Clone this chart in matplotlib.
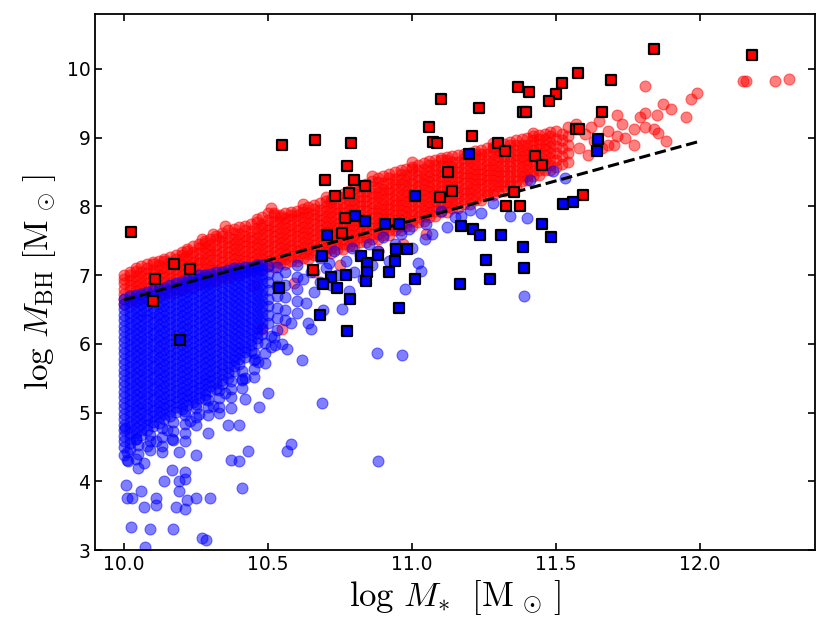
import matplotlib
matplotlib.use("Agg")
import matplotlib.pyplot as plt

plt.rcParams['mathtext.fontset'] = 'cm'

# red galaxies: dense band, written column by column (x, list of y)
red_cols = [
    (10.00, [6.58, 6.65, 6.73, 6.80, 6.88, 6.95, 7.00]),
    (10.02, [6.63, 6.70, 6.78, 6.85, 6.93, 7.00, 7.05]),
    (10.04, [6.62, 6.69, 6.77, 6.84, 6.92, 6.99, 7.06, 7.10]),
    (10.06, [6.67, 6.74, 6.82, 6.89, 6.97, 7.04, 7.13]),
    (10.08, [6.66, 6.73, 6.81, 6.88, 6.96, 7.03, 7.11, 7.16]),
    (10.10, [6.71, 6.78, 6.86, 6.93, 7.01, 7.08, 7.16, 7.19]),
    (10.12, [6.70, 6.77, 6.85, 6.92, 7.00, 7.07, 7.15, 7.21]),
    (10.14, [6.75, 6.82, 6.90, 6.97, 7.05, 7.12, 7.20, 7.24]),
    (10.16, [6.74, 6.81, 6.89, 6.96, 7.04, 7.11, 7.19, 7.27]),
    (10.18, [6.79, 6.86, 6.94, 7.01, 7.09, 7.16, 7.24, 7.30]),
    (10.20, [6.78, 6.85, 6.93, 7.00, 7.08, 7.15, 7.23, 7.30, 7.33]),
    (10.22, [6.83, 6.90, 6.98, 7.05, 7.13, 7.20, 7.28, 7.35, 7.38]),
    (10.24, [6.82, 6.89, 6.97, 7.04, 7.12, 7.19, 7.27, 7.34, 7.42]),
    (10.26, [6.87, 6.94, 7.02, 7.09, 7.17, 7.24, 7.32, 7.39, 7.46]),
    (10.28, [6.87, 6.94, 7.02, 7.09, 7.17, 7.24, 7.32, 7.39, 7.47, 7.50]),
    (10.30, [6.92, 6.99, 7.07, 7.14, 7.22, 7.29, 7.37, 7.44, 7.53]),
    (10.32, [6.92, 6.99, 7.07, 7.14, 7.22, 7.29, 7.37, 7.44, 7.52, 7.57]),
    (10.34, [6.97, 7.04, 7.12, 7.19, 7.27, 7.34, 7.42, 7.49, 7.57, 7.61]),
    (10.36, [6.96, 7.03, 7.11, 7.18, 7.26, 7.33, 7.41, 7.48, 7.56, 7.65]),
    (10.38, [7.01, 7.08, 7.16, 7.23, 7.31, 7.38, 7.46, 7.53, 7.61, 7.67]),
    (10.40, [7.00, 7.07, 7.15, 7.22, 7.30, 7.37, 7.45, 7.52, 7.60, 7.70]),
    (10.42, [7.05, 7.12, 7.20, 7.27, 7.35, 7.42, 7.50, 7.57, 7.65, 7.72]),
    (10.44, [7.04, 7.11, 7.19, 7.26, 7.34, 7.41, 7.49, 7.56, 7.64, 7.74]),
    (10.46, [7.09, 7.16, 7.24, 7.31, 7.39, 7.46, 7.54, 7.61, 7.69, 7.78]),
    (10.48, [7.08, 7.15, 7.23, 7.30, 7.38, 7.45, 7.53, 7.60, 7.68, 7.75, 7.84]),
    (10.50, [7.13, 7.20, 7.28, 7.35, 7.43, 7.50, 7.58, 7.65, 7.73, 7.80, 7.90]),
    (10.52, [7.12, 7.19, 7.27, 7.34, 7.42, 7.49, 7.57, 7.64, 7.72, 7.79, 7.87, 7.90]),
    (10.54, [7.17, 7.24, 7.32, 7.39, 7.47, 7.54, 7.62, 7.69, 7.77, 7.84, 7.88]),
    (10.56, [7.16, 7.23, 7.31, 7.38, 7.46, 7.53, 7.61, 7.68, 7.76, 7.83, 7.90]),
    (10.58, [7.21, 7.28, 7.36, 7.43, 7.51, 7.58, 7.66, 7.73, 7.81, 7.88, 7.92]),
    (10.60, [7.20, 7.27, 7.35, 7.42, 7.50, 7.57, 7.65, 7.72, 7.80, 7.87, 7.94]),
    (10.62, [7.25, 7.32, 7.40, 7.47, 7.55, 7.62, 7.70, 7.77, 7.85, 7.92, 7.96]),
    (10.64, [7.24, 7.31, 7.39, 7.46, 7.54, 7.61, 7.69, 7.76, 7.84, 7.91, 7.99]),
    (10.66, [7.29, 7.36, 7.44, 7.51, 7.59, 7.66, 7.74, 7.81, 7.89, 7.96, 8.02]),
    (10.68, [7.28, 7.35, 7.43, 7.50, 7.58, 7.65, 7.73, 7.80, 7.88, 7.95, 8.05]),
    (10.70, [7.33, 7.40, 7.48, 7.55, 7.63, 7.70, 7.78, 7.85, 7.93, 8.00, 8.08]),
    (10.72, [7.32, 7.39, 7.47, 7.54, 7.62, 7.69, 7.77, 7.84, 7.92, 7.99, 8.07, 8.11]),
    (10.74, [7.38, 7.45, 7.53, 7.60, 7.68, 7.75, 7.83, 7.90, 7.98, 8.05, 8.15]),
    (10.76, [7.38, 7.45, 7.53, 7.60, 7.68, 7.75, 7.83, 7.90, 7.98, 8.05, 8.13, 8.18]),
    (10.78, [7.43, 7.50, 7.58, 7.65, 7.73, 7.80, 7.88, 7.95, 8.03, 8.10, 8.18, 8.22]),
    (10.80, [7.43, 7.50, 7.58, 7.65, 7.73, 7.80, 7.88, 7.95, 8.03, 8.10, 8.18, 8.26]),
    (10.82, [7.48, 7.55, 7.63, 7.70, 7.78, 7.85, 7.93, 8.00, 8.08, 8.15, 8.23, 8.29]),
    (10.84, [7.48, 7.55, 7.63, 7.70, 7.78, 7.85, 7.93, 8.00, 8.08, 8.15, 8.23, 8.33]),
    (10.86, [7.53, 7.60, 7.68, 7.75, 7.83, 7.90, 7.98, 8.05, 8.13, 8.20, 8.28, 8.37]),
    (10.88, [7.53, 7.60, 7.68, 7.75, 7.83, 7.90, 7.98, 8.05, 8.13, 8.20, 8.28, 8.35, 8.41]),
    (10.90, [7.59, 7.66, 7.74, 7.81, 7.89, 7.96, 8.04, 8.11, 8.19, 8.26, 8.34, 8.44]),
    (10.92, [7.59, 7.66, 7.74, 7.81, 7.89, 7.96, 8.04, 8.11, 8.19, 8.26, 8.34, 8.41, 8.47]),
    (10.94, [7.65, 7.72, 7.80, 7.87, 7.95, 8.02, 8.10, 8.17, 8.25, 8.32, 8.40, 8.50]),
    (10.96, [7.65, 7.72, 7.80, 7.87, 7.95, 8.02, 8.10, 8.17, 8.25, 8.32, 8.40, 8.47, 8.53]),
    (10.98, [7.71, 7.78, 7.86, 7.93, 8.01, 8.08, 8.16, 8.23, 8.31, 8.38, 8.46, 8.55]),
    (11.00, [7.72, 7.79, 7.87, 7.94, 8.02, 8.09, 8.17, 8.24, 8.32, 8.39, 8.47, 8.54, 8.58]),
    (11.02, [7.78, 7.85, 7.93, 8.00, 8.08, 8.15, 8.23, 8.30, 8.38, 8.45, 8.53, 8.61]),
    (11.04, [7.79, 7.86, 7.94, 8.01, 8.09, 8.16, 8.24, 8.31, 8.39, 8.46, 8.54, 8.63]),
    (11.06, [7.85, 7.92, 8.00, 8.07, 8.15, 8.22, 8.30, 8.37, 8.45, 8.52, 8.60, 8.66]),
    (11.08, [7.86, 7.93, 8.01, 8.08, 8.16, 8.23, 8.31, 8.38, 8.46, 8.53, 8.61, 8.68]),
    (11.10, [7.92, 7.99, 8.07, 8.14, 8.22, 8.29, 8.37, 8.44, 8.52, 8.59, 8.67, 8.70]),
    (11.12, [7.92, 7.99, 8.07, 8.14, 8.22, 8.29, 8.37, 8.44, 8.52, 8.59, 8.67, 8.72]),
    (11.14, [7.98, 8.05, 8.13, 8.20, 8.28, 8.35, 8.43, 8.50, 8.58, 8.65, 8.74]),
    (11.16, [7.98, 8.05, 8.13, 8.20, 8.28, 8.35, 8.43, 8.50, 8.58, 8.65, 8.75]),
    (11.18, [8.04, 8.11, 8.19, 8.26, 8.34, 8.41, 8.49, 8.56, 8.64, 8.71, 8.77]),
    (11.20, [8.04, 8.11, 8.19, 8.26, 8.34, 8.41, 8.49, 8.56, 8.64, 8.71, 8.78]),
    (11.22, [8.10, 8.17, 8.25, 8.32, 8.40, 8.47, 8.55, 8.62, 8.70, 8.77, 8.80]),
    (11.24, [8.10, 8.17, 8.25, 8.32, 8.40, 8.47, 8.55, 8.62, 8.70, 8.77, 8.82]),
    (11.26, [8.16, 8.23, 8.31, 8.38, 8.46, 8.53, 8.61, 8.68, 8.76, 8.85]),
    (11.28, [8.16, 8.23, 8.31, 8.38, 8.46, 8.53, 8.61, 8.68, 8.76, 8.83, 8.87]),
    (11.30, [8.22, 8.29, 8.37, 8.44, 8.52, 8.59, 8.67, 8.74, 8.82, 8.89]),
    (11.32, [8.22, 8.29, 8.37, 8.44, 8.52, 8.59, 8.67, 8.74, 8.82, 8.91]),
    (11.34, [8.29, 8.36, 8.44, 8.51, 8.59, 8.66, 8.74, 8.81, 8.89, 8.94]),
    (11.36, [8.30, 8.37, 8.45, 8.52, 8.60, 8.67, 8.75, 8.82, 8.90, 8.96]),
    (11.38, [8.37, 8.44, 8.52, 8.59, 8.67, 8.74, 8.82, 8.89, 8.98]),
    (11.40, [8.38, 8.45, 8.53, 8.60, 8.68, 8.75, 8.83, 8.90, 9.00]),
    (11.42, [8.45, 8.52, 8.60, 8.67, 8.75, 8.82, 8.90, 8.97, 9.02]),
    (11.44, [8.46, 8.53, 8.61, 8.68, 8.76, 8.83, 8.91, 8.98, 9.04]),
    (11.46, [8.53, 8.60, 8.68, 8.75, 8.83, 8.90, 8.98, 9.06]),
    (11.48, [8.53, 8.61, 8.70, 8.78, 8.86, 8.94, 9.02, 9.08]),
    (11.50, [8.58, 8.68, 8.78, 8.88, 8.98, 9.10]),
    (11.52, [8.62, 8.74, 8.85, 8.96, 9.06]),
    (11.54, [8.65, 8.78, 8.90, 9.02, 9.15]),
]

# red galaxies: scattered ones around and beyond the band
red_extra = [
    (10.27, 7.52), (10.31, 7.60), (10.35, 7.71), (10.46, 7.81), (10.51, 7.97),
    (10.62, 8.04), (10.70, 8.14), (10.86, 8.45), (11.00, 8.65), (11.28, 8.93),
    (11.42, 9.07), (10.48, 6.22), (10.55, 6.22), (10.59, 6.89), (10.45, 6.85),
    (10.66, 7.05), (10.75, 7.15), (10.88, 7.35), (10.97, 7.45), (11.05, 7.60),
    (11.57, 9.20), (11.58, 8.85), (11.60, 9.05), (11.61, 8.75), (11.62, 9.15),
    (11.63, 8.95), (11.65, 9.25), (11.66, 8.85), (11.68, 9.10), (11.68, 8.90),
    (11.70, 8.90), (11.71, 9.02), (11.71, 9.33), (11.73, 9.20), (11.74, 9.00),
    (11.77, 9.12), (11.77, 8.90), (11.79, 9.30), (11.81, 9.16), (11.81, 9.36),
    (11.81, 9.75), (11.84, 9.12), (11.85, 9.33), (11.855, 9.07), (11.87, 9.49),
    (11.88, 8.95), (11.90, 9.42), (11.95, 9.30), (11.97, 9.56), (11.99, 9.65),
    (12.15, 9.82), (12.16, 9.82), (12.26, 9.82), (12.31, 9.85),
]

# blue galaxies: dense region at low mass, column by column
blue_cols = [
    (10.00, [4.50, 4.59, 4.66, 4.75, 4.82, 4.91, 4.98, 5.07, 5.14, 5.23, 5.30, 5.39, 5.46, 5.55,
             5.62, 5.71, 5.78, 5.87, 5.94, 6.03, 6.10, 6.19, 6.26, 6.35, 6.42, 6.51, 6.58, 6.66]),
    (10.02, [4.56, 4.63, 4.71, 4.79, 4.87, 4.95, 5.03, 5.11, 5.18, 5.27, 5.34, 5.43, 5.50, 5.59,
             5.66, 5.75, 5.82, 5.91, 5.98, 6.07, 6.14, 6.23, 6.30, 6.39, 6.46, 6.55, 6.62, 6.69]),
    (10.04, [4.62, 4.70, 4.78, 4.86, 4.93, 5.02, 5.09, 5.18, 5.25, 5.34, 5.41, 5.50, 5.57, 5.66,
             5.73, 5.82, 5.89, 5.98, 6.05, 6.14, 6.21, 6.30, 6.37, 6.46, 6.53, 6.62, 6.71]),
    (10.06, [4.68, 4.75, 4.83, 4.91, 4.99, 5.06, 5.14, 5.22, 5.30, 5.38, 5.46, 5.54, 5.62, 5.70,
             5.78, 5.86, 5.94, 6.02, 6.10, 6.18, 6.26, 6.34, 6.42, 6.50, 6.58, 6.66, 6.73]),
    (10.08, [4.74, 4.82, 4.90, 4.97, 5.06, 5.13, 5.22, 5.29, 5.38, 5.45, 5.54, 5.61, 5.70, 5.77,
             5.86, 5.93, 6.02, 6.09, 6.18, 6.25, 6.34, 6.41, 6.50, 6.57, 6.66, 6.76]),
    (10.10, [4.80, 4.87, 4.95, 5.02, 5.10, 5.18, 5.26, 5.34, 5.42, 5.50, 5.58, 5.66, 5.74, 5.82,
             5.90, 5.98, 6.06, 6.14, 6.22, 6.30, 6.38, 6.46, 6.54, 6.62, 6.70, 6.78]),
    (10.12, [4.85, 4.93, 5.01, 5.09, 5.16, 5.25, 5.32, 5.41, 5.48, 5.57, 5.64, 5.73, 5.80, 5.89,
             5.96, 6.05, 6.12, 6.21, 6.28, 6.37, 6.44, 6.53, 6.60, 6.69, 6.80]),
    (10.14, [4.91, 4.98, 5.06, 5.13, 5.21, 5.29, 5.37, 5.45, 5.53, 5.61, 5.69, 5.77, 5.85, 5.93,
             6.01, 6.09, 6.17, 6.25, 6.33, 6.41, 6.49, 6.57, 6.65, 6.73, 6.82]),
    (10.16, [4.95, 5.03, 5.11, 5.19, 5.26, 5.35, 5.42, 5.51, 5.58, 5.67, 5.74, 5.83, 5.90, 5.99,
             6.06, 6.15, 6.22, 6.31, 6.38, 6.47, 6.54, 6.63, 6.70, 6.78, 6.85]),
    (10.18, [5.01, 5.08, 5.16, 5.23, 5.31, 5.39, 5.47, 5.55, 5.63, 5.71, 5.79, 5.87, 5.95, 6.03,
             6.11, 6.19, 6.27, 6.35, 6.43, 6.51, 6.59, 6.67, 6.75, 6.82, 6.88]),
    (10.20, [5.05, 5.13, 5.21, 5.29, 5.36, 5.45, 5.52, 5.61, 5.68, 5.77, 5.84, 5.93, 6.00, 6.09,
             6.16, 6.25, 6.32, 6.41, 6.48, 6.57, 6.64, 6.73, 6.80, 6.90]),
    (10.22, [5.11, 5.18, 5.26, 5.33, 5.41, 5.49, 5.57, 5.65, 5.73, 5.81, 5.89, 5.97, 6.05, 6.13,
             6.21, 6.29, 6.37, 6.45, 6.53, 6.61, 6.69, 6.77, 6.85, 6.93]),
    (10.24, [5.15, 5.23, 5.31, 5.39, 5.46, 5.55, 5.62, 5.71, 5.78, 5.87, 5.94, 6.03, 6.10, 6.19,
             6.26, 6.35, 6.42, 6.51, 6.58, 6.67, 6.74, 6.83, 6.90, 6.96]),
    (10.26, [5.21, 5.28, 5.36, 5.43, 5.51, 5.59, 5.67, 5.75, 5.83, 5.91, 5.99, 6.07, 6.15, 6.23,
             6.31, 6.39, 6.47, 6.55, 6.63, 6.71, 6.79, 6.87, 6.94, 7.00]),
    (10.28, [5.25, 5.33, 5.41, 5.49, 5.56, 5.65, 5.72, 5.81, 5.88, 5.97, 6.04, 6.13, 6.20, 6.29,
             6.36, 6.45, 6.52, 6.61, 6.68, 6.77, 6.84, 6.92, 7.00]),
    (10.30, [5.31, 5.38, 5.46, 5.53, 5.61, 5.69, 5.77, 5.85, 5.93, 6.01, 6.09, 6.17, 6.25, 6.33,
             6.41, 6.49, 6.57, 6.65, 6.73, 6.81, 6.89, 6.96, 7.02]),
    (10.32, [5.35, 5.43, 5.51, 5.59, 5.66, 5.75, 5.82, 5.91, 5.98, 6.07, 6.14, 6.23, 6.30, 6.39,
             6.46, 6.55, 6.62, 6.71, 6.78, 6.87, 6.94, 7.05]),
    (10.34, [5.41, 5.48, 5.56, 5.63, 5.71, 5.79, 5.87, 5.95, 6.03, 6.11, 6.19, 6.27, 6.35, 6.43,
             6.51, 6.59, 6.67, 6.75, 6.83, 6.91, 6.99, 7.05]),
    (10.36, [5.50, 5.58, 5.66, 5.74, 5.81, 5.90, 5.97, 6.06, 6.13, 6.22, 6.29, 6.38, 6.45, 6.54,
             6.61, 6.70, 6.77, 6.86, 6.93, 7.01, 7.08]),
    (10.38, [5.61, 5.68, 5.76, 5.83, 5.91, 5.99, 6.07, 6.15, 6.23, 6.31, 6.39, 6.47, 6.55, 6.63,
             6.71, 6.79, 6.87, 6.95, 7.03, 7.10]),
    (10.40, [5.70, 5.78, 5.86, 5.94, 6.01, 6.10, 6.17, 6.26, 6.33, 6.42, 6.49, 6.58, 6.65, 6.74,
             6.81, 6.90, 6.97, 7.05, 7.11]),
    (10.42, [5.81, 5.88, 5.96, 6.03, 6.11, 6.19, 6.27, 6.35, 6.43, 6.51, 6.59, 6.67, 6.75, 6.83,
             6.91, 6.99, 7.06, 7.12]),
    (10.44, [5.90, 5.98, 6.06, 6.14, 6.21, 6.30, 6.37, 6.46, 6.53, 6.62, 6.69, 6.78, 6.85, 6.94,
             7.01, 7.08, 7.12]),
    (10.46, [6.01, 6.08, 6.16, 6.23, 6.31, 6.39, 6.47, 6.55, 6.63, 6.71, 6.79, 6.87, 6.95, 7.03,
             7.10, 7.15]),
    (10.48, [6.15, 6.23, 6.31, 6.39, 6.46, 6.55, 6.62, 6.71, 6.78, 6.87, 6.94, 7.02, 7.09, 7.15]),
    (10.50, [6.30, 6.42, 6.55, 6.66, 6.78, 6.90, 7.02, 7.14]),
    (10.53, [6.20, 6.38, 6.52, 6.70, 6.84, 6.98, 7.12]),
    (10.56, [6.35, 6.50, 6.68, 6.85, 7.05]),
    (10.60, [6.45, 6.62, 6.80, 6.98, 7.15]),
    # ragged lower edge of the dense region
    (10.01, [4.31, 4.42]),
    (10.05, [4.40, 4.53]),
    (10.09, [4.45, 4.58, 4.68]),
    (10.13, [4.52, 4.64, 4.77]),
    (10.17, [4.60, 4.73, 4.87]),
    (10.21, [4.71, 4.83, 4.96, 5.03]),
    (10.25, [4.82, 4.93, 5.06, 5.13]),
    (10.29, [4.96, 5.08, 5.19]),
    (10.33, [5.08, 5.21, 5.33]),
    (10.37, [5.22, 5.35, 5.46]),
    (10.41, [5.36, 5.49, 5.61]),
    (10.45, [5.52, 5.64, 5.76, 5.86]),
    (10.49, [5.72, 5.86, 6.01]),
    (10.51, [5.96, 6.12]),
]

# blue galaxies: sparse tail below and the band towards high mass
blue_extra = [
    (10.003, 4.77), (10.00, 4.38), (10.015, 4.29), (10.04, 4.33), (10.07, 4.26),
    (10.05, 4.19), (10.04, 4.62), (10.13, 4.43), (10.19, 4.43), (10.165, 4.17),
    (10.21, 4.14), (10.19, 4.00), (10.25, 4.38), (10.29, 4.70), (10.21, 4.58),
    (10.165, 4.62), (10.11, 4.58), (10.40, 4.82), (10.36, 4.82), (10.33, 4.99),
    (10.37, 5.06), (10.42, 5.20), (10.41, 5.47), (10.35, 5.28), (10.28, 5.20),
    (10.47, 5.08), (10.50, 5.28), (10.42, 5.50), (10.455, 5.78), (10.466, 5.73),
    (10.43, 4.44), (10.37, 4.31), (10.40, 4.30), (10.41, 3.90), (10.565, 4.44),
    (10.58, 4.54), (10.686, 5.14), (10.617, 5.77), (10.567, 5.93), (10.524, 5.98),
    (10.877, 5.86), (10.966, 5.84), (10.88, 4.30), (10.25, 3.75), (10.30, 3.75),
    (10.22, 3.73), (10.21, 3.59), (10.18, 3.63), (10.11, 3.75), (10.11, 3.66),
    (10.07, 3.63), (10.06, 3.86), (10.007, 3.95), (10.01, 3.75), (10.027, 3.75),
    (10.19, 3.86), (10.14, 4.00), (10.21, 4.04), (10.024, 3.34), (10.09, 3.31),
    (10.17, 3.30), (10.073, 3.04), (10.27, 3.17), (10.285, 3.14), (10.02, 4.47),
    (10.08, 4.52), (10.15, 4.75), (10.23, 4.88), (10.31, 5.10), (10.26, 4.98),
    (10.52, 6.10), (10.55, 6.00), (10.58, 6.30), (10.62, 6.95), (10.63, 6.60),
    (10.64, 6.31), (10.65, 6.22), (10.65, 7.05), (10.66, 6.75), (10.68, 6.90),
    (10.68, 7.25), (10.69, 6.50), (10.70, 7.10), (10.71, 7.18), (10.72, 6.85),
    (10.73, 7.35), (10.74, 7.00), (10.755, 6.51), (10.77, 7.20), (10.78, 6.77),
    (10.79, 7.40), (10.80, 7.05), (10.82, 7.30), (10.83, 6.95), (10.85, 7.45),
    (10.86, 7.15), (10.88, 7.35), (10.90, 7.55), (10.92, 7.20), (10.94, 7.45),
    (10.96, 7.60), (10.976, 6.80), (10.99, 7.67), (11.00, 7.40), (11.02, 7.18),
    (11.03, 7.06), (11.045, 7.52), (11.05, 7.75), (11.07, 7.60), (11.10, 7.93),
    (11.12, 7.70), (11.15, 7.85), (11.17, 7.86), (11.20, 7.95), (11.24, 7.90),
    (11.34, 7.86), (11.40, 7.83), (11.39, 6.69), (11.41, 8.38), (11.49, 8.51),
    (11.53, 8.42), (11.28, 8.05),
]

# observed samples (squares)
red_sq = [
    (10.024, 7.63), (10.108, 6.95), (10.10, 6.62), (10.173, 7.155), (10.229, 7.09),
    (10.548, 8.90), (10.663, 8.97), (10.787, 8.93), (10.775, 8.59), (10.698, 8.39),
    (10.799, 8.38), (10.837, 8.29), (10.731, 8.15), (10.781, 8.20), (10.767, 7.83),
    (10.756, 7.61), (10.657, 7.07), (11.10, 9.56), (11.059, 9.16), (11.074, 8.94),
    (11.086, 8.93), (11.126, 8.50), (11.097, 8.13), (11.14, 8.22), (11.839, 10.29),
    (12.18, 10.21), (11.366, 9.74), (11.407, 9.66), (11.576, 9.94), (11.522, 9.80),
    (11.499, 9.63), (11.475, 9.54), (11.691, 9.84), (11.234, 9.43), (11.386, 9.37),
    (11.396, 9.37), (11.66, 9.38), (11.207, 9.02), (11.30, 8.93), (11.324, 8.80),
    (11.57, 9.12), (11.58, 9.12), (11.428, 8.73), (11.451, 8.60), (11.354, 8.21),
    (11.326, 8.00), (11.375, 8.01), (11.595, 8.16),
]
blue_sq = [
    (11.198, 8.76), (11.647, 8.98), (11.643, 8.80), (11.525, 8.03), (11.56, 8.06),
    (11.169, 7.71), (11.21, 7.67), (11.236, 7.59), (11.31, 7.58), (11.45, 7.74),
    (11.483, 7.56), (11.386, 7.41), (11.255, 7.22), (11.39, 7.10), (11.272, 6.94),
    (11.167, 6.87), (11.01, 8.15), (10.706, 7.59), (10.802, 7.86), (10.837, 7.79),
    (10.906, 7.74), (10.955, 7.75), (10.686, 7.28), (10.822, 7.28), (10.843, 7.18),
    (10.883, 7.30), (10.944, 7.38), (10.984, 7.38), (10.941, 7.21), (10.921, 7.04),
    (11.01, 6.95), (10.844, 7.04), (10.839, 6.92), (10.718, 6.97), (10.69, 6.87),
    (10.74, 6.82), (10.771, 7.00), (10.784, 6.65), (10.68, 6.42), (10.775, 6.18),
    (10.956, 6.52), (10.537, 6.82), (10.194, 6.06),
]

# fitted relation
fit_x = [10.0, 12.0]
fit_y = [6.64, 8.95]

red_pts = [(x, y) for x, ys in red_cols for y in ys] + red_extra
blue_pts = [(x, y) for x, ys in blue_cols for y in ys] + blue_extra

fig = plt.figure(figsize=(8.3, 6.4), dpi=100)
ax = fig.add_axes([0.1148, 0.1406, 0.8675, 0.8375])

ax.scatter([p[0] for p in red_pts], [p[1] for p in red_pts], s=62, c='red',
           alpha=0.5, edgecolors='red', linewidths=0.8, zorder=1)
ax.scatter([p[0] for p in blue_pts], [p[1] for p in blue_pts], s=62, c='blue',
           alpha=0.5, edgecolors='blue', linewidths=0.8, zorder=2)
ax.plot(fit_x, fit_y, 'k--', lw=2.2, zorder=3)
ax.scatter([p[0] for p in red_sq], [p[1] for p in red_sq], s=58, marker='s',
           c='red', edgecolors='black', linewidths=1.6, zorder=4)
ax.scatter([p[0] for p in blue_sq], [p[1] for p in blue_sq], s=58, marker='s',
           c='blue', edgecolors='black', linewidths=1.6, zorder=4)

ax.set_xlim(9.9, 12.4)
ax.set_ylim(3, 10.8)
ax.set_xticks([10.0, 10.5, 11.0, 11.5, 12.0])
ax.set_yticks([3, 4, 5, 6, 7, 8, 9, 10])
ax.tick_params(direction='in', top=True, right=True, length=5, width=1.2,
               labelsize=13.5)
for sp in ax.spines.values():
    sp.set_linewidth(1.3)

ax.set_xlabel(r'$\log\,M_{\ast}\ \ [\mathrm{M}_{\,\odot}\,]$', fontsize=25, labelpad=3)
ax.set_ylabel(r'$\log\,M_{\rm BH}\ [\mathrm{M}_{\,\odot}\,]$', fontsize=24, labelpad=6)

fig.savefig('out.png', dpi=100)
